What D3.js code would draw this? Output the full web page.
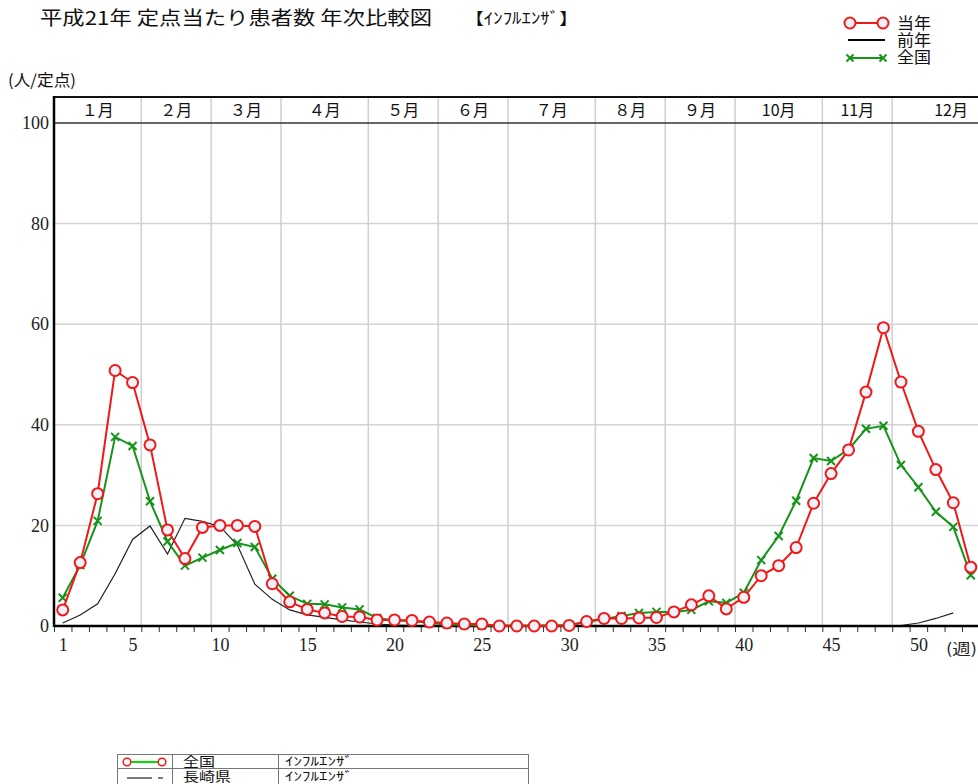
<!DOCTYPE html>
<html><head><meta charset="utf-8">
<script src="https://cdn.jsdelivr.net/npm/d3@7"></script>
<style>body{margin:0;background:#fff;overflow:hidden} svg{display:block}</style>
</head><body>
<svg id="chart" width="978" height="784"></svg>
<script>
// ---- data ----
const weeks = d3.range(1, 54);
const currentYear = [3.2,12.6,26.3,50.8,48.4,36.0,19.1,13.4,19.6,20.0,20.0,19.8,8.4,4.8,3.3,2.6,1.9,1.8,1.2,1.2,1.1,0.8,0.6,0.4,0.4,0.0,0.0,0.0,0.0,0.1,0.9,1.5,1.5,1.6,1.7,2.8,4.2,6.0,3.4,5.7,10.0,12.0,15.6,24.4,30.3,35.0,46.5,59.3,48.5,38.7,31.1,24.5,11.7];
const previousYear = [0.6,2.2,4.4,10.4,17.2,19.9,14.3,21.4,20.8,19.8,16.1,8.3,5.3,3.2,2.2,1.7,1.2,0.8,0.4,0.2,0.1,0.1,0,0,0,0,0,0,0,0,0,0,0,0,0,0,0,0,0,0,0,0,0,0,0,0,0,0,0.1,0.6,1.5,2.6];
const national = [5.6,12.1,20.9,37.6,35.8,24.8,16.8,12.0,13.6,15.1,16.5,15.7,9.4,6.0,4.4,4.3,3.7,3.3,1.6,1.1,1.0,0.6,0.3,0.2,0.1,0.1,0.1,0.1,0.1,0.2,0.8,1.4,2.0,2.6,2.8,2.8,3.2,4.9,4.6,6.6,13.1,17.9,24.9,33.4,32.8,35.1,39.2,39.8,32.0,27.6,22.7,19.7,10.1];
const monthLabels = ["１月","２月","３月","４月","５月","６月","７月","８月","９月","10月","11月","12月"];
const monthStartWeeks = [0.5,5.5,9.5,13.5,18.5,22.5,26.5,31.5,35.5,39.5,44.5,48.5];
const yTicks = [0,20,40,60,80,100];
const xTickLabels = [1,5,10,15,20,25,30,35,40,45,50];
const legendLabels = ["当年","前年","全国"];
const tableRows = [["全国","ｲﾝﾌﾙｴﾝｻﾞ"],["長崎県","ｲﾝﾌﾙｴﾝｻﾞ"]];

// ---- layout ----
const svg = d3.select("#chart");
const pLeft = 54, pTop = 123, pBottom = 626, bandTop = 97, plotRight = 1010;
const x = d3.scaleLinear().domain([0.5, 53.5]).range([pLeft, 979.5]);
const y = d3.scaleLinear().domain([0, 100]).range([pBottom, pTop]);
const JP = "'Noto Sans CJK JP', 'Noto Sans', sans-serif";
const NUM = "'Liberation Serif', 'DejaVu Serif', serif";

// title
svg.append("text").attr("x", 40).attr("y", 25).attr("font-family", JP).attr("font-size", 19)
  .attr("textLength", 392).attr("lengthAdjust", "spacingAndGlyphs").attr("fill", "#111")
  .text("平成21年 定点当たり患者数 年次比較図");
svg.append("text").attr("x", 465).attr("y", 24).attr("font-family", JP).attr("font-size", 16)
  .attr("textLength", 113).attr("lengthAdjust", "spacingAndGlyphs").attr("fill", "#111")
  .text("【ｲﾝﾌﾙｴﾝｻﾞ】");
svg.append("text").attr("x", 8).attr("y", 86).attr("font-family", JP).attr("font-size", 16)
  .attr("textLength", 68).attr("lengthAdjust", "spacingAndGlyphs").attr("fill", "#111")
  .text("(人/定点)");

// gridlines
const g = svg.append("g");
g.selectAll("line.hg").data(yTicks.filter(d => d > 0 && d < 100)).join("line")
  .attr("x1", pLeft).attr("x2", plotRight).attr("y1", d => y(d)).attr("y2", d => y(d))
  .attr("stroke", "#d4d4d4").attr("stroke-width", 1.5);
g.selectAll("line.vg").data(monthStartWeeks.slice(1)).join("line")
  .attr("x1", d => x(d)).attr("x2", d => x(d)).attr("y1", bandTop).attr("y2", pBottom)
  .attr("stroke", "#cfcfcf").attr("stroke-width", 1.5);

// month band
svg.append("line").attr("x1", pLeft).attr("x2", plotRight).attr("y1", bandTop).attr("y2", bandTop)
  .attr("stroke", "#111").attr("stroke-width", 2);
svg.append("line").attr("x1", pLeft).attr("x2", plotRight).attr("y1", pTop).attr("y2", pTop)
  .attr("stroke", "#333").attr("stroke-width", 1.5);
const bounds = monthStartWeeks.map(d => x(d)).concat([plotRight]);
svg.selectAll("text.month").data(monthLabels).join("text")
  .attr("x", (d, i) => (bounds[i] + bounds[i + 1]) / 2).attr("y", 116)
  .attr("text-anchor", "middle").attr("font-family", JP).attr("font-size", 16).attr("fill", "#111")
  .text(d => d);

// axes
const yAxis = svg.append("g").attr("transform", `translate(${pLeft},0)`)
  .call(d3.axisLeft(y).tickValues(yTicks).tickSize(0).tickPadding(5));
yAxis.select(".domain").remove();
yAxis.selectAll("text").attr("font-family", NUM).attr("font-size", 18).attr("fill", "#222");
svg.append("line").attr("x1", pLeft).attr("x2", pLeft).attr("y1", bandTop - 1).attr("y2", pBottom + 1)
  .attr("stroke", "#000").attr("stroke-width", 2.5);

const xTicksAxis = svg.append("g").attr("transform", `translate(0,${pBottom})`)
  .call(d3.axisBottom(x).tickValues(d3.range(0.5, 54, 1)).tickSize(6).tickFormat(""));
xTicksAxis.select(".domain").remove();
xTicksAxis.selectAll("line").attr("stroke", "#333");
const xLab = svg.append("g").attr("transform", `translate(0,${pBottom})`)
  .call(d3.axisBottom(x).tickValues(xTickLabels).tickSize(0).tickPadding(12).tickFormat(d3.format("d")));
xLab.select(".domain").remove();
xLab.selectAll("text").attr("font-family", NUM).attr("font-size", 18).attr("fill", "#222");
svg.append("text").attr("x", 946).attr("y", 654)
  .attr("font-family", JP).attr("font-size", 15).attr("textLength", 31).attr("lengthAdjust", "spacingAndGlyphs")
  .attr("fill", "#222").text("(週)");

// series
const line = d3.line().x((d, i) => x(weeks[i])).y(d => y(d));
svg.append("path").datum(previousYear).attr("d", line).attr("fill", "none")
  .attr("stroke", "#222").attr("stroke-width", 1.2);
svg.append("line").attr("x1", pLeft).attr("x2", plotRight).attr("y1", pBottom).attr("y2", pBottom)
  .attr("stroke", "#000").attr("stroke-width", 2.5);

const green = "#16941a", red = "#f01818";
svg.append("path").datum(national).attr("d", line).attr("fill", "none")
  .attr("stroke", green).attr("stroke-width", 2);
function cross(sel, cx, cy, s) {
  sel.append("path").attr("d", `M${cx - s},${cy - s}L${cx + s},${cy + s}M${cx - s},${cy + s}L${cx + s},${cy - s}`)
    .attr("stroke", green).attr("stroke-width", 2).attr("fill", "none");
}
const gm = svg.append("g");
national.forEach((v, i) => cross(gm, x(weeks[i]), y(v), 4));

svg.append("path").datum(currentYear).attr("d", line).attr("fill", "none")
  .attr("stroke", red).attr("stroke-width", 2);
svg.append("g").selectAll("circle").data(currentYear).join("circle")
  .attr("cx", (d, i) => x(weeks[i])).attr("cy", d => y(d)).attr("r", 5.5)
  .attr("fill", "#f5f1f8").attr("stroke", red).attr("stroke-width", 2);

// legend
const lg = svg.append("g");
const ly = [23, 40, 57];
lg.append("line").attr("x1", 850).attr("x2", 883).attr("y1", ly[0]).attr("y2", ly[0]).attr("stroke", red).attr("stroke-width", 2);
[850, 883].forEach(cx => lg.append("circle").attr("cx", cx).attr("cy", ly[0]).attr("r", 5.5)
  .attr("fill", "#f5f1f8").attr("stroke", red).attr("stroke-width", 2));
lg.append("line").attr("x1", 848).attr("x2", 885).attr("y1", ly[1]).attr("y2", ly[1]).attr("stroke", "#000").attr("stroke-width", 2);
lg.append("line").attr("x1", 850).attr("x2", 883).attr("y1", ly[2] + 1).attr("y2", ly[2] + 1).attr("stroke", green).attr("stroke-width", 2);
[850, 883].forEach(cx => cross(lg, cx, ly[2] + 1, 3.5));
lg.selectAll("text").data(legendLabels).join("text")
  .attr("x", 897).attr("y", (d, i) => ly[i] + 6).attr("font-family", JP).attr("font-size", 16)
  .attr("textLength", 34).attr("lengthAdjust", "spacingAndGlyphs")
  .attr("fill", "#111").text(d => d);

// bottom table
const tb = svg.append("g");
tb.append("rect").attr("x", 117.5).attr("y", 754.5).attr("width", 411).attr("height", 40)
  .attr("fill", "none").attr("stroke", "#777");
tb.append("line").attr("x1", 117.5).attr("x2", 528.5).attr("y1", 768.5).attr("y2", 768.5).attr("stroke", "#777");
[172.5, 278.5].forEach(cx => tb.append("line").attr("x1", cx).attr("x2", cx).attr("y1", 754.5).attr("y2", 794).attr("stroke", "#777"));
tb.append("line").attr("x1", 127).attr("x2", 162).attr("y1", 762).attr("y2", 762).attr("stroke", "#00e000").attr("stroke-width", 2);
[127, 162].forEach(cx => tb.append("circle").attr("cx", cx).attr("cy", 762).attr("r", 3.8)
  .attr("fill", "#fff").attr("stroke", red).attr("stroke-width", 1.5));
tb.append("line").attr("x1", 127).attr("x2", 152).attr("y1", 778).attr("y2", 778).attr("stroke", "#222").attr("stroke-width", 1.2);
tb.append("line").attr("x1", 158).attr("x2", 163).attr("y1", 778).attr("y2", 778).attr("stroke", "#222").attr("stroke-width", 1.2);
tableRows.forEach((r, i) => {
  tb.append("text").attr("x", 183).attr("y", 766 + i * 15).attr("font-family", JP).attr("font-size", 13)
    .attr("textLength", r[0].length * 16).attr("lengthAdjust", "spacingAndGlyphs")
    .attr("fill", "#111").text(r[0]);
  tb.append("text").attr("x", 285).attr("y", 765.5 + i * 15).attr("font-family", JP).attr("font-size", 12)
    .attr("textLength", 68).attr("lengthAdjust", "spacingAndGlyphs").attr("fill", "#111").text(r[1]);
});
</script>
</body></html>
